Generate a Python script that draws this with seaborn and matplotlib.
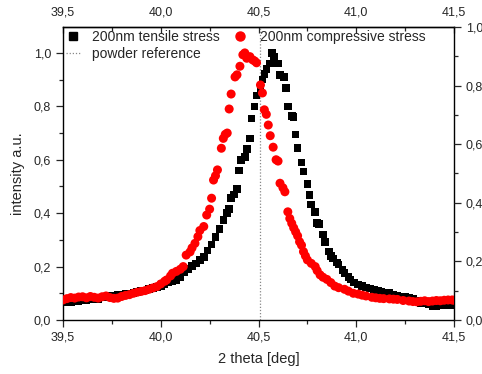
import matplotlib
matplotlib.use("Agg")
import matplotlib.pyplot as plt
from matplotlib.ticker import MultipleLocator, FuncFormatter, FixedLocator
from matplotlib.lines import Line2D
import seaborn as sns
import pandas as pd

# ---- data ----
tensile_x = [39.50, 39.52, 39.54, 39.56, 39.58, 39.60, 39.62, 39.64, 39.66, 39.68,
             39.70, 39.72, 39.74, 39.76, 39.78, 39.80, 39.82, 39.84, 39.86, 39.88,
             39.90, 39.92, 39.94, 39.96, 39.98, 40.00, 40.02, 40.04, 40.06, 40.08,
             40.10, 40.12, 40.14, 40.16, 40.18, 40.20, 40.22, 40.24, 40.26, 40.28,
             40.30, 40.32, 40.34, 40.35, 40.36, 40.375, 40.39, 40.40, 40.41, 40.43,
             40.44, 40.456, 40.465, 40.48, 40.49, 40.51, 40.52, 40.53, 40.54, 40.56,
             40.57, 40.58, 40.60, 40.61, 40.63, 40.64, 40.65, 40.67, 40.68, 40.69,
             40.70, 40.72, 40.73, 40.75, 40.76, 40.77, 40.79, 40.80, 40.81, 40.83,
             40.84, 40.86, 40.87, 40.88, 40.90, 40.91, 40.93, 40.94, 40.96, 40.97,
             40.99, 41.01, 41.03, 41.05, 41.07, 41.09, 41.11, 41.13, 41.15, 41.17,
             41.19, 41.21, 41.23, 41.25, 41.27, 41.29, 41.31, 41.33, 41.35, 41.37,
             41.39, 41.41, 41.43, 41.45, 41.47, 41.49]
tensile_y = [0.065, 0.068, 0.066, 0.070, 0.072, 0.075, 0.073, 0.078, 0.080, 0.079,
             0.084, 0.086, 0.090, 0.088, 0.093, 0.095, 0.097, 0.099, 0.101, 0.104,
             0.108, 0.111, 0.116, 0.120, 0.124, 0.128, 0.133, 0.140, 0.145, 0.150,
             0.162, 0.178, 0.190, 0.202, 0.212, 0.225, 0.237, 0.260, 0.282, 0.310,
             0.340, 0.375, 0.400, 0.415, 0.456, 0.470, 0.490, 0.560, 0.600, 0.610,
             0.640, 0.680, 0.755, 0.800, 0.840, 0.868, 0.900, 0.920, 0.940, 0.960,
             1.000, 0.985, 0.960, 0.918, 0.910, 0.868, 0.800, 0.764, 0.760, 0.695,
             0.645, 0.590, 0.556, 0.510, 0.468, 0.433, 0.405, 0.364, 0.360, 0.320,
             0.293, 0.256, 0.240, 0.230, 0.215, 0.208, 0.187, 0.175, 0.162, 0.152,
             0.140, 0.133, 0.128, 0.122, 0.118, 0.113, 0.110, 0.105, 0.102, 0.100,
             0.095, 0.092, 0.088, 0.085, 0.082, 0.078, 0.070, 0.062, 0.065, 0.058,
             0.050, 0.052, 0.056, 0.055, 0.058, 0.056]

compressive_x = [39.50, 39.52, 39.54, 39.56, 39.58, 39.60, 39.62, 39.64, 39.66, 39.68,
                 39.70, 39.72, 39.74, 39.76, 39.78, 39.80, 39.82, 39.84, 39.86, 39.88,
                 39.90, 39.92, 39.94, 39.96, 39.98, 40.00, 40.02, 40.03, 40.05, 40.06,
                 40.08, 40.10, 40.115, 40.13, 40.15, 40.16, 40.175, 40.19, 40.20, 40.22,
                 40.235, 40.25, 40.26, 40.27, 40.28, 40.29, 40.31, 40.32, 40.33, 40.34,
                 40.35, 40.36, 40.38, 40.39, 40.405, 40.42, 40.43, 40.44, 40.456, 40.47,
                 40.48, 40.49, 40.51, 40.52, 40.53, 40.54, 40.55, 40.56, 40.575, 40.59,
                 40.60, 40.61, 40.625, 40.635, 40.65, 40.66, 40.67, 40.68, 40.69, 40.70,
                 40.71, 40.72, 40.73, 40.74, 40.75, 40.77, 40.79, 40.80, 40.815, 40.83,
                 40.85, 40.87, 40.89, 40.91, 40.94, 40.96, 40.985, 41.01, 41.03, 41.05,
                 41.08, 41.10, 41.12, 41.14, 41.17, 41.19, 41.21, 41.24, 41.27, 41.29,
                 41.31, 41.33, 41.35, 41.37, 41.39, 41.41, 41.43, 41.45, 41.47, 41.49,
                 41.50]
compressive_y = [0.075, 0.080, 0.084, 0.082, 0.086, 0.087, 0.083, 0.088, 0.085, 0.082,
                 0.087, 0.090, 0.084, 0.081, 0.082, 0.088, 0.092, 0.095, 0.100, 0.104,
                 0.107, 0.110, 0.115, 0.120, 0.125, 0.135, 0.145, 0.150, 0.165, 0.175,
                 0.182, 0.190, 0.200, 0.243, 0.255, 0.270, 0.287, 0.312, 0.335, 0.350,
                 0.393, 0.415, 0.456, 0.524, 0.540, 0.562, 0.643, 0.680, 0.695, 0.700,
                 0.790, 0.846, 0.910, 0.918, 0.950, 0.993, 1.000, 0.980, 0.986, 0.974,
                 0.970, 0.963, 0.880, 0.850, 0.787, 0.770, 0.730, 0.690, 0.647, 0.600,
                 0.595, 0.512, 0.495, 0.480, 0.405, 0.380, 0.362, 0.345, 0.330, 0.315,
                 0.293, 0.280, 0.256, 0.240, 0.225, 0.212, 0.200, 0.185, 0.169, 0.160,
                 0.152, 0.140, 0.127, 0.121, 0.115, 0.108, 0.100, 0.097, 0.093, 0.090,
                 0.085, 0.083, 0.081, 0.080, 0.079, 0.078, 0.077, 0.073, 0.071, 0.069,
                 0.068, 0.070, 0.072, 0.069, 0.071, 0.073, 0.072, 0.074, 0.075, 0.075,
                 0.074]

powder_reference_x = 40.51
x_major_ticks = [39.5, 40.0, 40.5, 41.0, 41.5]
x_minor_ticks = [39.75, 40.25, 40.75, 41.25]
series_labels = ["200nm tensile stress", "200nm compressive stress", "powder reference"]
x_label = "2 theta [deg]"
y_label = "intensity a.u."

# ---- plotting ----
sns.set_style("white")
plt.rcParams['font.family'] = ['Liberation Sans', 'DejaVu Sans']

fig = plt.figure(figsize=(4.82, 3.74), dpi=100)
ax = fig.add_axes([63/482, 54/374, 391/482, 293/374])

df_t = pd.DataFrame({"x": tensile_x, "y": tensile_y})
df_c = pd.DataFrame({"x": compressive_x, "y": compressive_y})

sns.scatterplot(data=df_t, x="x", y="y", ax=ax, marker="s", s=30, color="black",
                edgecolor="none", linewidth=0, zorder=3)
sns.scatterplot(data=df_c, x="x", y="y", ax=ax, marker="o", s=42, color="#ff0000",
                edgecolor="none", linewidth=0, zorder=4)
ax.axvline(powder_reference_x, color="#888888", lw=0.9, ls=(0, (1, 1.5)), zorder=2)

ax.set_xlim(39.5, 41.5)
ax.set_ylim(0, 1.097)
comma = FuncFormatter(lambda v, p: f"{v:.1f}".replace(".", ","))
ax.xaxis.set_major_locator(FixedLocator(x_major_ticks))
ax.xaxis.set_minor_locator(FixedLocator(x_minor_ticks))
ax.yaxis.set_major_locator(MultipleLocator(0.2))
ax.yaxis.set_minor_locator(MultipleLocator(0.1))
ax.xaxis.set_major_formatter(comma)
ax.yaxis.set_major_formatter(comma)
ax.tick_params(axis="x", which="both", bottom=True, top=False, labelsize=9,
               direction="out")
ax.tick_params(axis="x", which="major", length=5, width=0.9)
ax.tick_params(axis="x", which="minor", length=3, width=0.9)
ax.tick_params(axis="y", which="both", left=True, labelsize=9, direction="out")
ax.tick_params(axis="y", which="major", length=5, width=0.9)
ax.tick_params(axis="y", which="minor", length=3, width=0.9)
ax.set_xlabel(x_label, fontsize=10.5, labelpad=6)
ax.set_ylabel(y_label, fontsize=10.5, labelpad=6)
for sp in ax.spines.values():
    sp.set_color("black")
    sp.set_linewidth(1.0)

# top x axis (same scale), ticks pointing inward as in the reference
top = ax.secondary_xaxis("top")
top.xaxis.set_major_locator(FixedLocator(x_major_ticks))
top.xaxis.set_minor_locator(FixedLocator(x_minor_ticks))
top.xaxis.set_major_formatter(comma)
top.tick_params(axis="x", which="both", direction="in", labelsize=9, pad=6)
top.tick_params(axis="x", which="major", length=4, width=0.9)
top.tick_params(axis="x", which="minor", length=3, width=0.9)
top.spines["top"].set_linewidth(1.0)

ax2 = ax.twinx()
ax2.set_ylim(0, 1.0)
ax2.yaxis.set_major_locator(MultipleLocator(0.2))
ax2.yaxis.set_minor_locator(MultipleLocator(0.1))
ax2.yaxis.set_major_formatter(comma)
ax2.tick_params(axis="y", which="both", right=True, labelsize=9, direction="out")
ax2.tick_params(axis="y", which="major", length=5, width=0.9)
ax2.tick_params(axis="y", which="minor", length=3, width=0.9)
for sp in ax2.spines.values():
    sp.set_visible(False)

handles = [
    Line2D([], [], marker="s", color="black", ls="none", markersize=5.5),
    Line2D([], [], color="#888888", lw=0.9, ls=(0, (1, 1.5))),
    Line2D([], [], marker="o", color="#ff0000", ls="none", markersize=6.5),
]
labels = [series_labels[0], series_labels[2], series_labels[1]]
ax.legend(handles, labels, loc="upper left", ncol=2, frameon=False, fontsize=10,
          handlelength=1.0, handletextpad=0.9, columnspacing=0.95, labelspacing=0.2,
          borderaxespad=0.0, borderpad=0.2)

fig.savefig("out.png", dpi=100)
